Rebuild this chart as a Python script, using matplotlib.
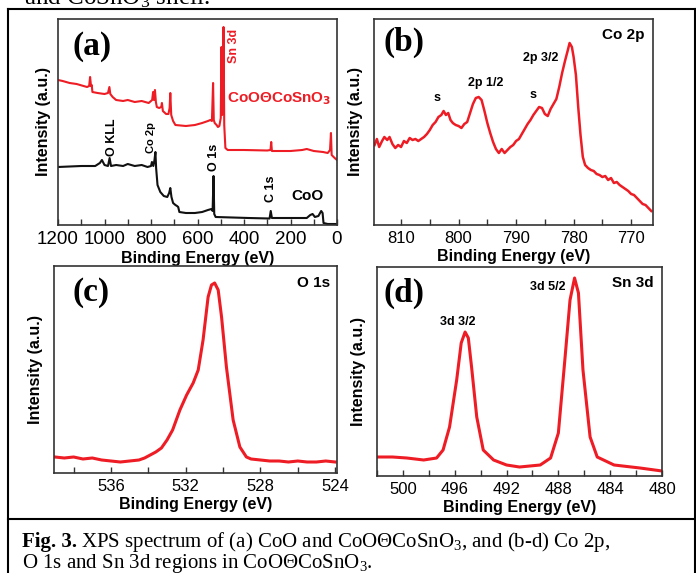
import matplotlib
matplotlib.use("Agg")
import matplotlib.pyplot as plt
from matplotlib.lines import Line2D
from matplotlib.ticker import MultipleLocator

plt.rcParams['font.family'] = ['Liberation Sans', 'DejaVu Sans']
plt.rcParams['mathtext.fontset'] = 'custom'
plt.rcParams['mathtext.rm'] = 'Liberation Serif'
plt.rcParams['mathtext.bf'] = 'Liberation Serif:bold'
plt.rcParams['mathtext.it'] = 'Liberation Serif:italic'

# ---- data (intensities in arbitrary units) ----
# (a) survey spectra
survey_e_coo = [1200, 1100, 1040, 1020, 1011, 1000, 985, 978, 972, 950, 920, 900, 870, 840,
                815, 800, 796, 790, 785, 781, 778, 772, 760, 745, 730, 722, 717, 712, 705,
                695, 688, 683, 678, 650, 611, 580, 555, 540, 535, 531, 528, 522, 450, 380,
                290, 285, 280, 200, 130, 115, 105, 95, 80, 68, 62, 58, 40, 0]
survey_i_coo = [58, 59, 59, 62, 65, 60, 59, 67, 59, 60, 59, 61, 59, 60,
                58, 59, 63, 59, 65, 73, 57, 40, 33, 29, 28, 32, 37, 28, 22,
                20, 19, 18, 13, 12, 12, 13, 15, 16, 14, 49, 11, 8, 7.5, 7,
                6.5, 14, 7, 7, 7, 10, 11, 8, 9, 14, 12, 2, 1, 1]
survey_e_shell = [1200, 1180, 1150, 1120, 1090, 1075, 1066, 1062, 1058, 1055, 1052, 1030, 1000,
                  985, 979, 975, 965, 950, 920, 900, 870, 840, 810, 795, 791, 787, 783, 779,
                  775, 765, 756, 753, 749, 735, 725, 720, 717, 713, 705, 695, 650, 611, 580,
                  555, 545, 538, 533, 530, 526, 518, 512, 506, 500, 497, 494, 491, 488, 485,
                  480, 470, 400, 300, 286, 283, 280, 200, 150, 130, 100, 60, 40, 30, 26, 23,
                  10, 0]
survey_i_shell = [145, 144, 142, 141, 139, 138, 139, 148, 139, 140, 133, 132, 131,
                  132, 138, 131, 128, 125, 124, 125, 123, 124, 122, 125, 133, 125, 135, 123,
                  118, 117, 118, 122, 114, 111, 111, 117, 132, 110, 104, 100, 99, 100, 102,
                  104, 105, 104, 142, 105, 102, 100, 98, 99, 107, 178, 110, 130, 198, 100,
                  77, 75, 75, 74.5, 75, 83, 74, 74, 75, 76, 74, 73, 72, 75, 92, 70,
                  67, 65]

# (b) Co 2p
co2p_e = [814.6, 814.2, 813.8, 813.3, 812.9, 812.4, 812.0, 811.5, 811.0, 810.5, 810.0, 809.5,
          809.0, 808.5, 808.0, 807.5, 807.0, 806.5, 806.0, 805.5, 805.0, 804.5, 804.0, 803.5,
          803.0, 802.6, 802.2, 801.8, 801.4, 801.0, 800.5, 800.0, 799.5, 799.0, 798.5, 798.0,
          797.5, 797.0, 796.5, 796.0, 795.5, 795.0, 794.5, 794.0, 793.5, 793.0, 792.5, 792.0,
          791.5, 791.0, 790.5, 790.0, 789.5, 789.0, 788.5, 788.0, 787.5, 787.0, 786.5, 786.0,
          785.5, 785.0, 784.5, 784.0, 783.5, 783.0, 782.5, 782.0, 781.5, 781.0, 780.7, 780.3,
          780.0, 779.6, 779.2, 778.8, 778.4, 778.0, 777.5, 777.0, 776.5, 776.0, 775.5, 775.0,
          774.5, 774.0, 773.5, 773.0, 772.5, 772.0, 771.5, 771.0, 770.5, 770.0, 769.5, 769.0,
          768.5, 768.0, 767.5, 767.0, 766.5]
co2p_i = [80, 86, 78, 84, 88, 85, 88, 81, 77, 80, 78, 84,
          82, 87, 85, 86, 84, 86, 88, 91, 95, 100, 103, 108,
          110, 114, 110, 112, 105, 102, 100, 99, 97, 101, 103, 112,
          121, 127, 128, 125, 114, 102, 92, 83, 76, 72, 76, 72,
          75, 78, 80, 84, 86, 91, 96, 101, 105, 110, 114, 118,
          117, 111, 109, 116, 121, 126, 138, 152, 164, 175, 182, 178,
          168, 150, 118, 90, 68, 60, 57, 55, 54, 51, 50, 48,
          49, 45, 47, 42, 43, 40, 38, 36, 34, 31, 30, 27,
          24, 21, 20, 17, 14]

# (c) O 1s
o1s_e = [539.0, 538.5, 538.0, 537.5, 537.0, 536.5, 536.0, 535.5, 535.0, 534.5, 534.2, 533.9,
         533.6, 533.3, 533.0, 532.7, 532.31, 531.95, 531.6, 531.33, 531.07, 530.8, 530.62,
         530.45, 530.26, 530.08, 529.82, 529.46, 529.1, 528.75, 528.5, 528.0, 527.5, 527.0,
         526.5, 526.0, 525.5, 525.0, 524.5, 524.0]
o1s_i = [16, 15, 16, 14, 15, 13, 12, 11, 12, 13, 15, 18,
         21, 25, 33, 43, 63, 78, 90, 103, 133, 176, 188,
         190, 183, 156, 106, 53, 26, 16, 14, 13, 12, 12,
         11, 12, 11, 11, 12, 11]

# (d) Sn 3d
sn3d_e = [502.0, 500.8, 499.7, 498.4, 497.4, 496.9, 496.4, 495.85, 495.5, 495.2, 494.95, 494.7,
          494.3, 493.8, 493.0, 492.0, 491.0, 489.4, 488.6, 488.0, 487.5, 487.1, 486.75, 486.45,
          486.1, 485.55, 485.0, 483.7, 481.7, 480.0]
sn3d_i = [19, 19, 18, 16, 18, 26, 49, 96, 133, 144, 138, 109,
          59, 26, 16, 11, 9, 11, 18, 43, 116, 176, 198, 183,
          106, 39, 19, 11, 8, 5]

RED = '#ee1c24'
W, H = 696, 573

fig = plt.figure(figsize=(W / 100, H / 100), dpi=100)


def px_axes(l, r, t, b):
    return fig.add_axes([l / W, 1 - b / H, (r - l) / W, (b - t) / H])


def ftxt(x, y, s, **kw):
    kw.setdefault('ha', 'center')
    kw.setdefault('va', 'center')
    return fig.text(x / W, 1 - y / H, s, **kw)


def style(ax, xlim, major, minor, ymax, tsize, ypad):
    ax.set_xlim(*xlim)
    ax.set_ylim(0, ymax)
    ax.set_yticks([])
    ax.xaxis.set_major_locator(MultipleLocator(major))
    ax.xaxis.set_minor_locator(MultipleLocator(minor))
    ax.tick_params(axis='x', which='both', direction='in', length=4, width=1,
                   color='#333333', labelsize=tsize, pad=4.5)
    for sp in ax.spines.values():
        sp.set_color('#333333')
        sp.set_linewidth(1.2)
    ax.set_xlabel('Binding Energy (eV)', fontsize=11.5, fontweight='bold', labelpad=2)
    ax.set_ylabel('Intensity (a.u.)', fontsize=11.5, fontweight='bold', labelpad=ypad)


# (a)
ax_a = px_axes(58, 337, 19, 225)
ax_a.plot(survey_e_shell, survey_i_shell, color=RED, lw=1.5)
ax_a.plot(survey_e_coo, survey_i_coo, color='#111111', lw=1.5)
style(ax_a, (1200, 0), 200, 100, 206, 13.5, 5)

# (b)
ax_b = px_axes(374, 653, 19, 225)
ax_b.plot(co2p_e, co2p_i, color=RED, lw=1.8)
style(ax_b, (814.7, 766.2), 10, 5, 206, 12, 8)

# (c)
ax_c = px_axes(54, 337, 266, 473)
ax_c.plot(o1s_e, o1s_i, color=RED, lw=2.2)
style(ax_c, (539.05, 523.9), 4, 2, 207, 12, 8)

# (d)
ax_d = px_axes(377, 662, 267, 476)
ax_d.plot(sn3d_e, sn3d_i, color=RED, lw=2.2)
style(ax_d, (502, 480), 4, 2, 209, 12, 8)

# panel letters
serif = ['Liberation Serif', 'DejaVu Serif']
for x, y, s in [(92, 47, '(a)'), (404, 42, '(b)'), (91, 293, '(c)'), (404, 293, '(d)')]:
    ftxt(x, y, s, family=serif, fontsize=24, fontweight='bold')

# annotations (a)
ftxt(234, 46, 'Sn 3d', rotation=90, color=RED, fontsize=9, fontweight='bold')
ftxt(112, 137, 'O KLL', rotation=90, fontsize=9, fontweight='bold')
ftxt(151, 138, 'Co 2p', rotation=90, fontsize=8, fontweight='bold')
ftxt(214, 157, 'O 1s', rotation=90, fontsize=9, fontweight='bold')
ftxt(271, 189, 'C 1s', rotation=90, fontsize=9, fontweight='bold')
ftxt(307, 196, 'CoO', fontsize=11, fontweight='bold')
ftxt(227, 99, r'CoOΘCoSnO$_\mathbf{3}$', ha='left', color=RED, fontsize=11,
     fontweight='bold', math_fontfamily='dejavusans')

# annotations (b)
ftxt(623, 35, 'Co 2p', fontsize=11, fontweight='bold')
ftxt(541, 58, '2p 3/2', fontsize=9, fontweight='bold')
ftxt(486, 83, '2p 1/2', fontsize=9, fontweight='bold')
ftxt(437, 98, 's', fontsize=9, fontweight='bold')
ftxt(533, 95, 's', fontsize=9, fontweight='bold')

# annotations (c), (d)
ftxt(314, 283, 'O 1s', fontsize=11, fontweight='bold')
ftxt(633, 283, 'Sn 3d', fontsize=11, fontweight='bold')
ftxt(548, 287, '3d 5/2', fontsize=9, fontweight='bold')
ftxt(458, 322, '3d 3/2', fontsize=9, fontweight='bold')

# frame lines of the figure box
for xs, ys in [((8, 696), (8.5, 8.5)), ((8, 8), (8.5, 573)), ((8, 696), (519, 519)),
               ((695, 695), (8.5, 573))]:
    fig.add_artist(Line2D([x / W for x in xs], [1 - y / H for y in ys],
                          color='black', lw=1.5))

# text of the page above the figure (cut off by the crop)
ftxt(24, 4, r'and CoSnO$_3$ shell.', ha='left', va='baseline', family=serif, fontsize=18)

# caption
cap_size = 15
fig_lbl = ftxt(22, 547, 'Fig. 3.', ha='left', va='baseline', family=serif,
               fontsize=cap_size, fontweight='bold')
fig.canvas.draw()
lbl_w = fig_lbl.get_window_extent().width
ftxt(22 + lbl_w + 4, 547,
     r'XPS spectrum of (a) CoO and CoOΘCoSnO$_3$, and (b-d) Co 2p,',
     ha='left', va='baseline', family=serif, fontsize=cap_size)
ftxt(22, 568, r'O 1s and Sn 3d regions in CoOΘCoSnO$_3$.',
     ha='left', va='baseline', family=serif, fontsize=cap_size)

fig.savefig('out.png', dpi=100)
